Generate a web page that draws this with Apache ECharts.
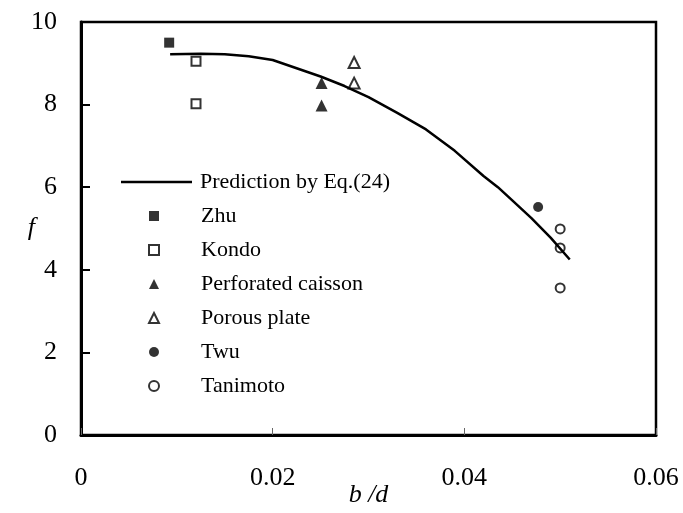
<!DOCTYPE html>
<html>
<head>
<meta charset="utf-8">
<script src="https://cdn.jsdelivr.net/npm/echarts@6/dist/echarts.min.js"></script>
<style>
  html, body { margin: 0; padding: 0; background: #fff; }
  #chart { width: 683px; height: 513px; }
</style>
</head>
<body>
<div id="chart"></div>
<script>
// prediction curve by Eq.(24): [b/d, f]
const prediction = [
  [0.0093, 9.22], [0.0125, 9.23], [0.015, 9.22], [0.0175, 9.17], [0.02, 9.08],
  [0.0225, 8.88], [0.025, 8.68], [0.0275, 8.45], [0.03, 8.18], [0.033, 7.8],
  [0.036, 7.4], [0.039, 6.88], [0.042, 6.27], [0.0435, 6.0], [0.045, 5.68],
  [0.047, 5.25], [0.049, 4.78], [0.051, 4.25]
]
// measured data
const zhu = [[0.0092, 9.5]]
const kondo = [[0.012, 9.05], [0.012, 8.02]]
const perforated = [[0.0251, 8.52], [0.0251, 7.98]]
const porous = [[0.0285, 9.02], [0.0285, 8.52]]
const twu = [[0.0477, 5.52]]
const tanimoto = [[0.05, 4.99], [0.05, 4.53], [0.05, 3.56]]

const font = 'Liberation Serif'

let chart = echarts.init(document.getElementById('chart'))

// filled / hollow marker styles
const filled = { color: '#000' }
const hollow = { color: '#fff', borderColor: '#000', borderWidth: 2 }
const legendText = { fontFamily: font, fontSize: 22, color: '#000', lineHeight: 22 }

chart.setOption({
  animation: false,
  grid: {
    left: 81,
    right: 27,
    top: 22,
    bottom: 78,
    outerBoundsMode: 'none',
    show: true,
    borderColor: '#000',
    borderWidth: 2.5
  },
  legend: [
    {
      // line entry
      orient: 'vertical',
      left: 116,
      top: 166,
      itemWidth: 71,
      itemHeight: 2.5,
      textStyle: Object.assign({ padding: [0, 0, 0, 3] }, legendText),
      data: [{ name: 'Prediction by Eq.(24)', icon: 'rect' }]
    },
    {
      // marker entries
      orient: 'vertical',
      left: 143,
      top: 200,
      itemWidth: 10,
      itemHeight: 10,
      itemGap: 12,
      textStyle: Object.assign({ padding: [0, 0, 0, 37] }, legendText),
      data: [
        { name: 'Zhu', icon: 'rect' },
        { name: 'Kondo', icon: 'rect' },
        { name: 'Perforated caisson', icon: 'triangle' },
        { name: 'Porous plate', icon: 'triangle' },
        { name: 'Twu', icon: 'circle' },
        { name: 'Tanimoto', icon: 'circle' }
      ]
    }
  ],
  xAxis: {
    type: 'value',
    min: 0,
    max: 0.06,
    interval: 0.02,
    name: 'b /d',
    nameLocation: 'middle',
    nameGap: 47,
    nameMoveOverlap: false,
    nameTextStyle: { fontFamily: font, fontSize: 26, fontStyle: 'italic', color: '#000' },
    splitLine: { show: false },
    axisLine: { lineStyle: { color: '#000', width: 3 } },
    axisTick: { inside: true, length: 7, lineStyle: { color: '#666', width: 1 } },
    axisLabel: { fontFamily: font, fontSize: 26, color: '#000', margin: 30 }
  },
  yAxis: {
    type: 'value',
    min: 0,
    max: 10,
    interval: 2,
    name: 'f',
    nameLocation: 'middle',
    nameRotate: 0,
    nameGap: 46,
    nameMoveOverlap: false,
    nameTextStyle: { fontFamily: font, fontSize: 26, fontStyle: 'italic', color: '#000' },
    splitLine: { show: false },
    axisLine: { lineStyle: { color: '#000', width: 3 } },
    axisTick: { inside: true, length: 9, lineStyle: { color: '#000', width: 2 } },
    axisLabel: { fontFamily: font, fontSize: 26, color: '#000', margin: 24 }
  },
  series: [
    {
      name: 'Prediction by Eq.(24)',
      type: 'line',
      data: prediction,
      symbol: 'none',
      lineStyle: { color: '#000', width: 2.5 },
      itemStyle: { color: '#000' }
    },
    { name: 'Zhu', type: 'scatter', symbol: 'rect', symbolSize: 10, data: zhu, itemStyle: filled },
    { name: 'Kondo', type: 'scatter', symbol: 'rect', symbolSize: 9, data: kondo, itemStyle: hollow },
    { name: 'Perforated caisson', type: 'scatter', symbol: 'triangle', symbolSize: 12, data: perforated, itemStyle: filled },
    { name: 'Porous plate', type: 'scatter', symbol: 'triangle', symbolSize: 11, data: porous, itemStyle: hollow },
    { name: 'Twu', type: 'scatter', symbol: 'circle', symbolSize: 10, data: twu, itemStyle: filled },
    { name: 'Tanimoto', type: 'scatter', symbol: 'circle', symbolSize: 9, data: tanimoto, itemStyle: hollow }
  ]
})
</script>
</body>
</html>
